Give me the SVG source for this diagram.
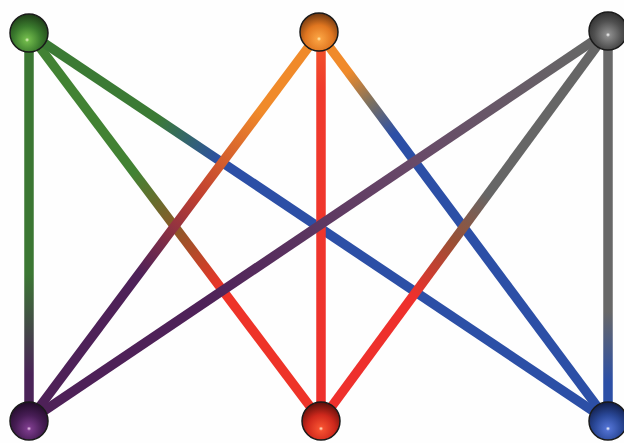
<svg xmlns="http://www.w3.org/2000/svg" width="624" height="443" viewBox="0 0 624 443">
<style>
.e{fill:none;stroke-width:9.5;stroke-linecap:butt}
.n{stroke:#1a1a1a;stroke-width:1.5}
</style>
<defs>
<linearGradient id="g-gp" gradientUnits="userSpaceOnUse" x1="29" y1="33" x2="29" y2="421"><stop offset="0.62" stop-color="#3b7733"/><stop offset="0.88" stop-color="#4a2358"/></linearGradient>
<linearGradient id="g-gr" gradientUnits="userSpaceOnUse" x1="29" y1="33" x2="321" y2="421"><stop offset="0.36" stop-color="#428233"/><stop offset="0.5" stop-color="#8a5a28"/><stop offset="0.66" stop-color="#ee3328"/></linearGradient>
<linearGradient id="g-gb" gradientUnits="userSpaceOnUse" x1="29" y1="33" x2="608" y2="421"><stop offset="0.22" stop-color="#3b7a34"/><stop offset="0.33" stop-color="#2c4fa6"/></linearGradient>
<linearGradient id="g-op" gradientUnits="userSpaceOnUse" x1="319" y1="33" x2="29" y2="421"><stop offset="0.2" stop-color="#f08a2a"/><stop offset="0.42" stop-color="#c03f30"/><stop offset="0.62" stop-color="#4e2158"/></linearGradient>
<linearGradient id="g-or" gradientUnits="userSpaceOnUse" x1="321" y1="33" x2="321" y2="421"><stop offset="0" stop-color="#f25a2a"/><stop offset="0.15" stop-color="#f03a2c"/><stop offset="1" stop-color="#ee302c"/></linearGradient>
<linearGradient id="g-ob" gradientUnits="userSpaceOnUse" x1="319" y1="33" x2="608" y2="421"><stop offset="0.1" stop-color="#f08a2a"/><stop offset="0.18" stop-color="#7a7060"/><stop offset="0.26" stop-color="#2c4fa6"/></linearGradient>
<linearGradient id="g-kp" gradientUnits="userSpaceOnUse" x1="608" y1="31" x2="29" y2="421"><stop offset="0.05" stop-color="#666666"/><stop offset="0.35" stop-color="#684868"/><stop offset="0.7" stop-color="#4e2158"/></linearGradient>
<linearGradient id="g-kr" gradientUnits="userSpaceOnUse" x1="608" y1="31" x2="321" y2="421"><stop offset="0.42" stop-color="#666666"/><stop offset="0.54" stop-color="#9a5035"/><stop offset="0.68" stop-color="#ee302c"/></linearGradient>
<linearGradient id="g-kb" gradientUnits="userSpaceOnUse" x1="608" y1="31" x2="608" y2="421"><stop offset="0.72" stop-color="#686868"/><stop offset="0.9" stop-color="#2c4fa6"/></linearGradient>
<radialGradient id="s-green" cx="0.45" cy="0.68" r="0.72" fx="0.45" fy="0.68"><stop offset="0" stop-color="#e6f7c0"/><stop offset="0.08" stop-color="#6fb84a"/><stop offset="0.5" stop-color="#3a7a2d"/><stop offset="1" stop-color="#1a3515"/></radialGradient>
<radialGradient id="s-orange" cx="0.5" cy="0.68" r="0.72" fx="0.5" fy="0.68"><stop offset="0" stop-color="#fff0b0"/><stop offset="0.08" stop-color="#f9a040"/><stop offset="0.5" stop-color="#e07620"/><stop offset="1" stop-color="#5a2c0e"/></radialGradient>
<radialGradient id="s-gray" cx="0.5" cy="0.6" r="0.72" fx="0.5" fy="0.6"><stop offset="0" stop-color="#ffffff"/><stop offset="0.08" stop-color="#8a8a8a"/><stop offset="0.5" stop-color="#505050"/><stop offset="1" stop-color="#202020"/></radialGradient>
<radialGradient id="s-purple" cx="0.5" cy="0.7" r="0.72" fx="0.5" fy="0.7"><stop offset="0" stop-color="#f0c8f0"/><stop offset="0.08" stop-color="#7a3a8a"/><stop offset="0.5" stop-color="#471d55"/><stop offset="1" stop-color="#1e0a25"/></radialGradient>
<radialGradient id="s-red" cx="0.5" cy="0.7" r="0.72" fx="0.5" fy="0.7"><stop offset="0" stop-color="#fff0d0"/><stop offset="0.08" stop-color="#f55030"/><stop offset="0.5" stop-color="#cf281c"/><stop offset="1" stop-color="#500c08"/></radialGradient>
<radialGradient id="s-blue" cx="0.5" cy="0.7" r="0.72" fx="0.5" fy="0.7"><stop offset="0" stop-color="#ffffff"/><stop offset="0.08" stop-color="#5070d0"/><stop offset="0.5" stop-color="#2a4898"/><stop offset="1" stop-color="#0e1a42"/></radialGradient>
</defs>
<rect width="624" height="443" fill="#fefefe"/>
<g id="connectors">
<line class="e" x1="29" y1="33" x2="29" y2="421" stroke="url(#g-gp)"/>
<line class="e" x1="29" y1="33" x2="321" y2="421" stroke="url(#g-gr)"/>
<line class="e" x1="29" y1="33" x2="608" y2="421" stroke="url(#g-gb)"/>
<line class="e" x1="319" y1="33" x2="29" y2="421" stroke="url(#g-op)"/>
<line class="e" x1="321" y1="33" x2="321" y2="421" stroke="url(#g-or)"/>
<line class="e" x1="319" y1="33" x2="608" y2="421" stroke="url(#g-ob)"/>
<line class="e" x1="608" y1="31" x2="29" y2="421" stroke="url(#g-kp)"/>
<line class="e" x1="608" y1="31" x2="321" y2="421" stroke="url(#g-kr)"/>
<line class="e" x1="608" y1="31" x2="608" y2="421" stroke="url(#g-kb)"/>
</g>
<g id="node-green"><circle class="n" cx="29" cy="33" r="19" fill="url(#s-green)"/></g>
<g id="node-orange"><circle class="n" cx="319" cy="32" r="19" fill="url(#s-orange)"/></g>
<g id="node-gray"><circle class="n" cx="608" cy="31" r="19" fill="url(#s-gray)"/></g>
<g id="node-purple"><circle class="n" cx="29" cy="421" r="19" fill="url(#s-purple)"/></g>
<g id="node-red"><circle class="n" cx="321" cy="421" r="19" fill="url(#s-red)"/></g>
<g id="node-blue"><circle class="n" cx="608" cy="421" r="19" fill="url(#s-blue)"/></g>
</svg>
